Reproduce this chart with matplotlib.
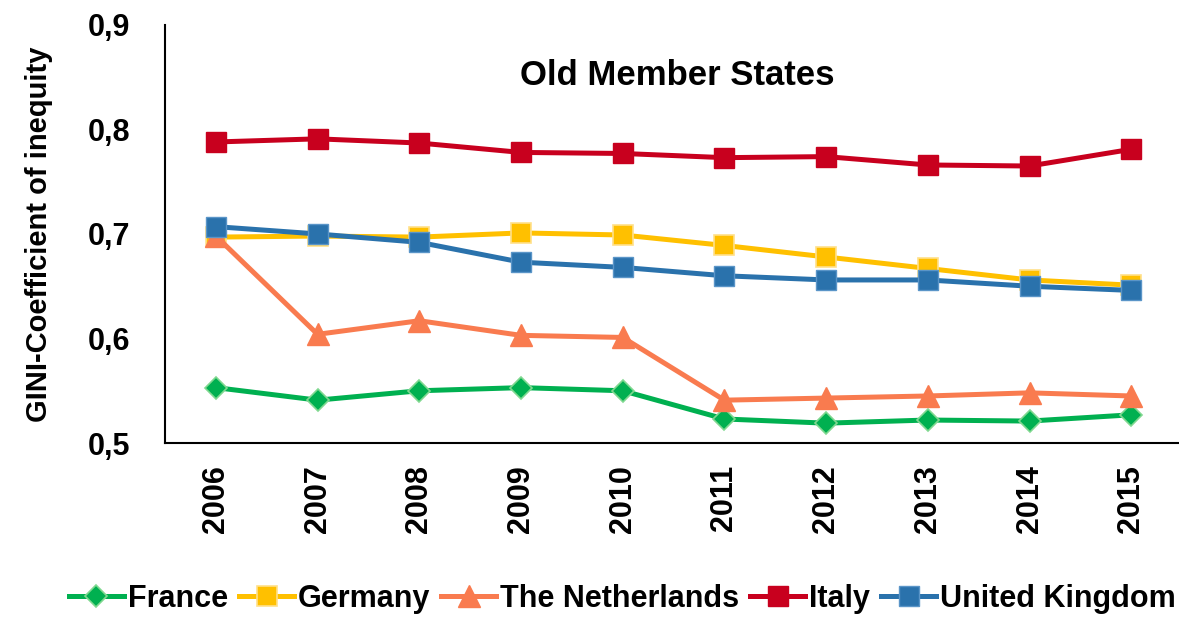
import numpy as np
import matplotlib.pyplot as plt
from matplotlib.ticker import FuncFormatter

plt.rcParams['font.family'] = ['Liberation Sans', 'DejaVu Sans']
plt.rcParams['font.weight'] = 'bold'

years = ['2006', '2007', '2008', '2009', '2010', '2011', '2012', '2013', '2014', '2015']
france = [0.553, 0.541, 0.550, 0.553, 0.550, 0.523, 0.519, 0.522, 0.521, 0.527]
germany = [0.697, 0.698, 0.697, 0.701, 0.699, 0.689, 0.678, 0.667, 0.656, 0.651]
netherlands = [0.698, 0.604, 0.617, 0.603, 0.601, 0.541, 0.543, 0.545, 0.548, 0.545]
italy = [0.788, 0.791, 0.787, 0.778, 0.777, 0.773, 0.774, 0.766, 0.765, 0.781]
uk = [0.707, 0.700, 0.692, 0.673, 0.668, 0.660, 0.656, 0.656, 0.650, 0.646]

fig = plt.figure(figsize=(11.79, 6.21), dpi=100)
ax = fig.add_axes([0.14, 0.2866, 0.86, 0.6733])

x = np.arange(len(years))
ax.plot(x, france, color='#00B050', lw=3.6, marker='D', ms=11, mec='#80D890', mew=1.2, label='France')
ax.plot(x, germany, color='#FFC000', lw=3.6, marker='s', ms=14, mec='#FFE08A', mew=1.2, label='Germany')
ax.plot(x, netherlands, color='#F97B4F', lw=3.6, marker='^', ms=16, mec='#F97B4F', label='The Netherlands')
ax.plot(x, italy, color='#C8001E', lw=3.6, marker='s', ms=14, mec='#C8001E', label='Italy')
ax.plot(x, uk, color='#2A72AC', lw=3.6, marker='s', ms=14, mec='#5A95C8', mew=1.0, label='United Kingdom')

ax.set_xlim(-0.5, 9.47)
ax.set_ylim(0.5, 0.9)
ax.set_yticks([0.5, 0.6, 0.7, 0.8, 0.9])
ax.yaxis.set_major_formatter(FuncFormatter(lambda v, p: f'{v:.1f}'.replace('.', ',')))
ax.set_xticks(x)
ax.set_xticklabels(years, rotation=90, fontsize=22, fontweight='bold')
ax.tick_params(axis='y', labelsize=22, length=0, pad=25)
ax.tick_params(axis='x', length=0, pad=16)
for s in ['top', 'right']:
    ax.spines[s].set_visible(False)
ax.spines['left'].set_linewidth(1.5)
ax.spines['bottom'].set_linewidth(1.5)

ax.set_ylabel('GINI-Coefficient of inequity', fontsize=21, fontweight='bold')
ax.yaxis.set_label_coords(-0.111, 0.5)
ax.text(0.505, 0.88, 'Old Member States', transform=ax.transAxes, ha='center', va='center',
        fontsize=25, fontweight='bold')

fig.legend(loc='center', bbox_to_anchor=(0.528, 0.036), ncol=5, frameon=False,
           fontsize=22, handlelength=1.8, handletextpad=0.13, columnspacing=0.36,
           borderpad=0.2)

fig.savefig('out.png', dpi=100)
